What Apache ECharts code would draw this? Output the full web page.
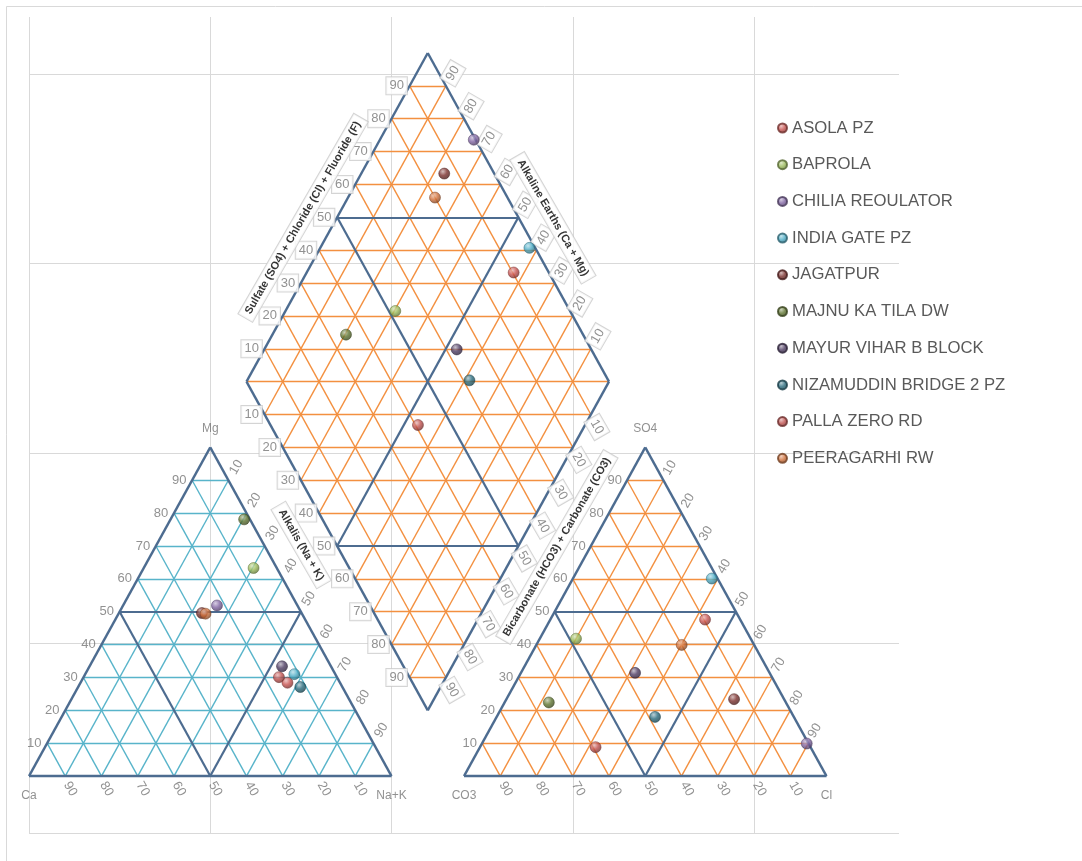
<!DOCTYPE html>
<html>
<head>
<meta charset="utf-8">
<title>Piper diagram – groundwater sites</title>
<script src="https://cdn.jsdelivr.net/npm/echarts@6/dist/echarts.min.js"></script>
<style>
  html, body { margin: 0; padding: 0; background: #ffffff; }
  #chart { width: 1082px; height: 861px; }
</style>
</head>
<body>
<div id="chart"></div>
<script>
// ---- sample data (percent of meq/L) ----
const sites = [
  'ASOLA PZ', 'BAPROLA', 'CHILIA REOULATOR', 'INDIA GATE PZ', 'JAGATPUR',
  'MAJNU KA TILA DW', 'MAYUR VIHAR B BLOCK', 'NIZAMUDDIN BRIDGE 2 PZ',
  'PALLA ZERO RD', 'PEERAGARHI RW'
];
const cationCa  = [14.5,  6.4, 22.2, 11.3, 27.5,  1.6, 13.5, 11.6, 16.0, 26.6];
const cationMg  = [28.4, 63.3, 51.9, 31.0, 49.6, 78.1, 33.4, 27.1, 30.1, 49.4];
const cationNaK = [57.1, 30.3, 25.9, 57.7, 22.9, 20.3, 53.1, 61.3, 53.9, 24.0];
const anionHCO3CO3 = [ 9.7, 48.2,  0.5,  1.6, 13.8, 65.4, 37.1, 38.3, 59.3, 20.0];
const anionSO4     = [47.6, 41.8,  9.9, 60.1, 23.4, 22.4, 31.4, 18.0,  8.8, 39.9];
const anionCl      = [42.7, 10.0, 89.6, 38.3, 62.8, 12.2, 31.5, 43.7, 31.9, 40.1];
const siteColors = [
  '#C8524F', '#9BBB59', '#8064A2', '#4BACC6', '#7A2E2B',
  '#5F7530', '#4D3B62', '#276A7C', '#C0504D', '#D0703A'
];
const tickValues = [10, 20, 30, 40, 50, 60, 70, 80, 90];
const cationCorners = ['Ca', 'Mg', 'Na+K'];
const anionCorners = ['CO3', 'SO4', 'Cl'];
const axisTitles = [
  'Sulfate (SO4) + Chloride (Cl) + Fluoride (F)',
  'Alkaline Earths (Ca + Mg)',
  'Alkalis (Na + K)',
  'Bicarbonate (HCO3) + Carbonate (CO3)'
];

// ---- layout of the three plotting fields (axis units) ----
const SIDE = 100, GAP = 20, Y0 = 15;
const R3 = Math.sqrt(3) / 2;
const H = SIDE * R3;
const catA = [0, Y0], catB = [SIDE, Y0], catC = [SIDE / 2, Y0 + H];
const anA = [SIDE + GAP, Y0], anB = [2 * SIDE + GAP, Y0], anC = [SIDE + GAP + SIDE / 2, Y0 + H];
const dBot = [SIDE + GAP / 2, Y0 + GAP * R3];
const dLeft = [SIDE / 2 + GAP / 2, dBot[1] + H];
const dRight = [SIDE * 1.5 + GAP / 2, dBot[1] + H];
const dTop = [SIDE + GAP / 2, dBot[1] + 2 * H];

const lerp = (p, q, t) => [p[0] + (q[0] - p[0]) * t, p[1] + (q[1] - p[1]) * t];
const mid = (p, q) => lerp(p, q, 0.5);

function cationXY(i) {
  const tot = cationCa[i] + cationMg[i] + cationNaK[i];
  const m = cationMg[i] / tot * 100, n = cationNaK[i] / tot * 100;
  return [n + m / 2, Y0 + m * R3];
}
function anionXY(i) {
  const tot = anionHCO3CO3[i] + anionSO4[i] + anionCl[i];
  const s = anionSO4[i] / tot * 100, c = anionCl[i] / tot * 100;
  return [SIDE + GAP + c + s / 2, Y0 + s * R3];
}
function diamondXY(i) {
  const n = cationNaK[i] / (cationCa[i] + cationMg[i] + cationNaK[i]) * 100;
  const a = anionHCO3CO3[i] / (anionHCO3CO3[i] + anionSO4[i] + anionCl[i]) * 100;
  const span = 2 * SIDE + GAP;
  return [(n + span - a) / 2, Y0 + R3 * (span - a - n)];
}

// ---- grid meshes ----
const lightCyan = [], lightOrange = [], darkLines = [], outlines = [];
function triGrid(P, light) {
  for (let i = 0; i < 3; i++) {
    const V = P[i], U = P[(i + 1) % 3], W = P[(i + 2) % 3];
    for (const v of tickValues) {
      const t = v / 100;
      const seg = [lerp(V, U, t), lerp(V, W, t)];
      (v === 50 ? darkLines : light).push(seg);
    }
  }
}
triGrid([catA, catB, catC], lightCyan);
triGrid([anA, anB, anC], lightOrange);
triGrid([dLeft, dRight, dTop], lightOrange);
triGrid([dLeft, dRight, dBot], lightOrange);
lightOrange.push([dLeft, dRight]);
function polygon(P) {
  P.forEach((p, i) => outlines.push([p, P[(i + 1) % P.length]]));
}
polygon([catA, catB, catC]);
polygon([anA, anB, anC]);
polygon([dBot, dRight, dTop, dLeft]);

function lineSeries(segs, color, width, z) {
  return {
    type: 'lines', coordinateSystem: 'cartesian2d', silent: true, z: z,
    data: segs.map(s => ({ coords: s })),
    lineStyle: { color: color, width: width, opacity: 1, curveness: 0 }
  };
}

// ---- text ----
const FONT = "'Liberation Sans Narrow', 'Liberation Sans', Arial, sans-serif";
const GREY = '#767676';

// label offsets are applied in the label's rotated frame, so turn a
// screen-space shift into the matching local shift
function rotOffset(sx, sy, deg) {
  const a = (deg || 0) * Math.PI / 180, c = Math.cos(a), s = Math.sin(a);
  return [sx * c - sy * s, sx * s + sy * c];
}
function labelSeries(items, opt, z) {
  const o = Object.assign({}, opt);
  const shift = o.shift || [0, 0];
  delete o.shift;
  return {
    type: 'scatter', silent: true, symbolSize: 0.01, z: z || 6,
    itemStyle: { color: 'rgba(0,0,0,0)' },
    data: items.map(it => ({ value: it.pos, name: String(it.text) })),
    label: Object.assign({
      show: true, position: 'inside', formatter: p => p.name,
      color: GREY, fontFamily: FONT, fontSize: 13,
      offset: rotOffset(shift[0], shift[1], o.rotate)
    }, o),
    emphasis: { disabled: true },
    tooltip: { show: false }
  };
}
const boxed = {
  backgroundColor: '#ffffff', borderColor: '#c9c9c9', borderWidth: 1,
  padding: [2, 3, 1, 3], lineHeight: 14
};
const tickRow = (from, to, flip) => tickValues.map(v => ({ pos: lerp(from, to, flip ? 1 - v / 100 : v / 100), text: v }));

const labelGroups = [];
// cation triangle
labelGroups.push(labelSeries(tickRow(catA, catC), { shift: [-13, 0] }));
labelGroups.push(labelSeries(tickRow(catB, catC, true), { rotate: 60, shift: [8, -13] }));
labelGroups.push(labelSeries(tickRow(catA, catB, true), { rotate: -60, shift: [5, 13] }));
// anion triangle
labelGroups.push(labelSeries(tickRow(anA, anC), { shift: [-12.5, 0] }));
labelGroups.push(labelSeries(tickRow(anB, anC, true), { rotate: 60, shift: [6.5, -12.5] }));
labelGroups.push(labelSeries(tickRow(anA, anB, true), { rotate: -60, shift: [5.5, 13] }));
// diamond
labelGroups.push(labelSeries(tickRow(dLeft, dTop), Object.assign({ shift: [-13, 0] }, boxed)));
labelGroups.push(labelSeries(tickRow(dLeft, dBot), Object.assign({ shift: [-13, 0] }, boxed)));
labelGroups.push(labelSeries(tickRow(dRight, dTop), Object.assign({ rotate: 60, shift: [7, -12.5] }, boxed)));
labelGroups.push(labelSeries(tickRow(dRight, dBot), Object.assign({ rotate: -60, shift: [6, 12.5] }, boxed)));
// corner names
labelGroups.push(labelSeries([
  { pos: catC, text: cationCorners[1] }, { pos: anC, text: anionCorners[1] }
], { shift: [0, -19], fontSize: 12 }));
labelGroups.push(labelSeries([
  { pos: catA, text: cationCorners[0] }, { pos: catB, text: cationCorners[2] },
  { pos: anA, text: anionCorners[0] }, { pos: anB, text: anionCorners[2] }
], { shift: [0, 20], fontSize: 12 }));
// axis titles along the diamond edges
const titleStyle = {
  color: '#000000', fontWeight: 'bold', fontSize: 11, fontFamily: FONT,
  backgroundColor: '#ffffff', borderColor: '#c9c9c9', borderWidth: 1, padding: [3, 5, 2, 5]
};
labelGroups.push(labelSeries([{ pos: mid(dLeft, dTop), text: axisTitles[0] }], Object.assign({ rotate: 60, shift: [-34, 0.5] }, titleStyle), 7));
labelGroups.push(labelSeries([{ pos: mid(dRight, dTop), text: axisTitles[1] }], Object.assign({ rotate: -60, shift: [34.5, 0.5] }, titleStyle), 7));
labelGroups.push(labelSeries([{ pos: mid(dLeft, dBot), text: axisTitles[2] }], Object.assign({ rotate: -60, shift: [-36, -1] }, titleStyle), 7));
labelGroups.push(labelSeries([{ pos: mid(dRight, dBot), text: axisTitles[3] }], Object.assign({ rotate: 60, shift: [38.5, 1] }, titleStyle), 7));

// ---- sample markers (shaded spheres) ----
function shade(hex, amt) {
  const n = parseInt(hex.slice(1), 16);
  let r = n >> 16, g = (n >> 8) & 255, b = n & 255;
  const t = amt < 0 ? 0 : 255, p = Math.abs(amt);
  r = Math.round(r + (t - r) * p); g = Math.round(g + (t - g) * p); b = Math.round(b + (t - b) * p);
  return 'rgb(' + r + ',' + g + ',' + b + ')';
}
function sphere(hex) {
  return {
    type: 'radial', x: 0.38, y: 0.32, r: 0.78,
    colorStops: [
      { offset: 0, color: shade(hex, 0.6) },
      { offset: 0.45, color: hex },
      { offset: 1, color: shade(hex, -0.5) }
    ]
  };
}
const siteSeries = sites.map((name, i) => ({
  type: 'scatter', name: name, z: 10,
  symbol: 'circle', symbolSize: 11,
  itemStyle: { color: sphere(siteColors[i]), borderColor: shade(siteColors[i], -0.45), borderWidth: 0.6 },
  data: [cationXY(i), anionXY(i), diamondXY(i)]
}));

const axisCommon = {
  type: 'value', interval: 50,
  axisLine: { show: false }, axisTick: { show: false }, axisLabel: { show: false },
  splitLine: { show: true, showMinLine: true, showMaxLine: false, lineStyle: { color: '#d9d9d9', width: 1 } }
};

const chart = echarts.init(document.getElementById('chart'), null, { renderer: 'canvas' });
chart.setOption({
  backgroundColor: '#ffffff',
  animation: false,
  grid: { left: 29, right: 183, top: 17, bottom: 28 },
  xAxis: Object.assign({ min: 0, max: 240 }, axisCommon),
  yAxis: Object.assign({ min: 0, max: 215 }, axisCommon),
  legend: {
    data: sites, orient: 'vertical', left: 772, top: 113,
    icon: 'circle', itemWidth: 9, itemHeight: 9, itemGap: 16.7, itemTextGap: 5,
    selectedMode: false,
    textStyle: { color: '#595959', fontSize: 16.7, fontFamily: FONT, lineHeight: 20 }
  },
  graphic: [{
    type: 'rect', silent: true, z: -10,
    shape: { x: 6.5, y: 6.5, width: 1200, height: 1000 },
    style: { fill: null, stroke: '#d9d9d9', lineWidth: 1 }
  }],
  series: [
    lineSeries(lightCyan, '#58b4ca', 1.4, 1),
    lineSeries(lightOrange, '#f39040', 1.4, 1),
    lineSeries(darkLines, '#4d6c90', 2.2, 2),
    lineSeries(outlines, '#4d6c90', 2.4, 3)
  ].concat(labelGroups, siteSeries)
});
</script>
</body>
</html>
